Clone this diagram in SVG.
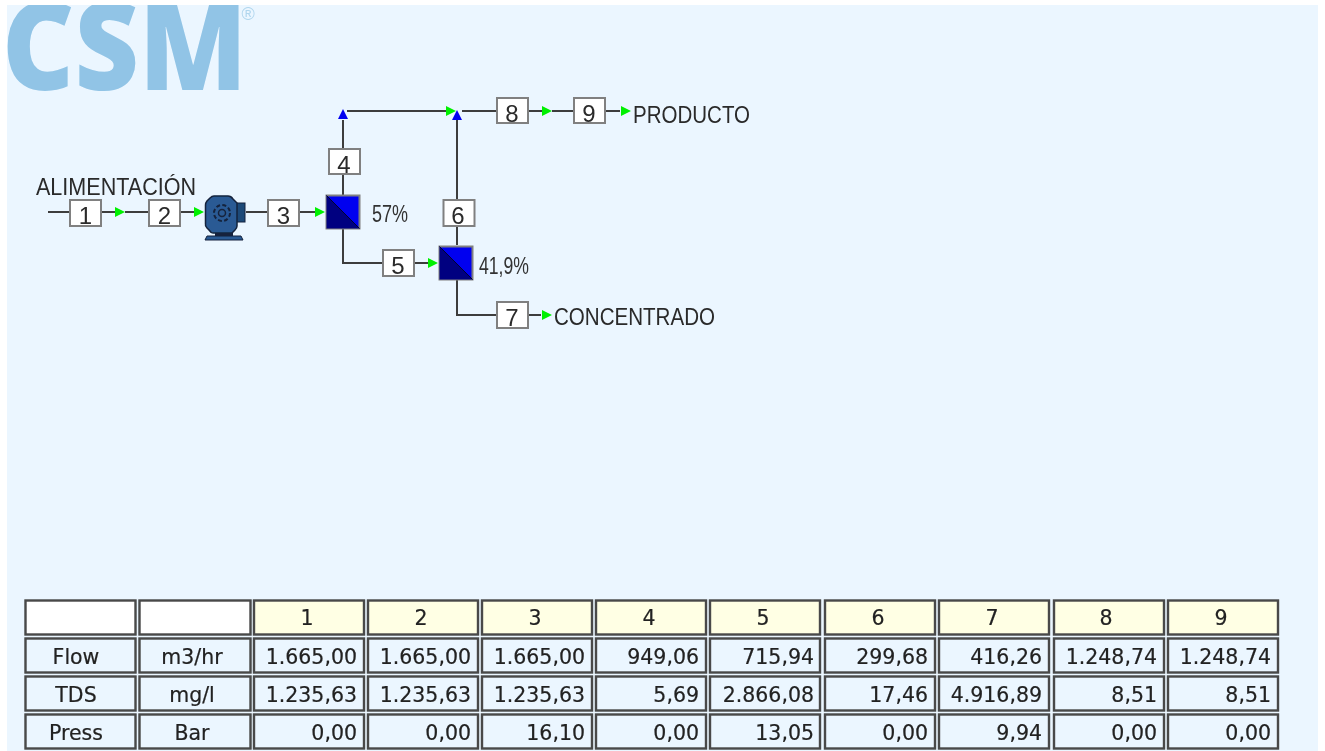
<svg xmlns="http://www.w3.org/2000/svg" width="1325" height="751" viewBox="0 0 1325 751">
<style>
.ln{fill:none;stroke:#3c3c3c;stroke-width:2}
.box{fill:#fff;stroke:#808080;stroke-width:2}
.n{font:24px "Liberation Sans",Arial,sans-serif;fill:#2a2a2a;text-anchor:middle}
.lb{font:23.500px "Liberation Sans",Arial,sans-serif;fill:#2a2a2a}
.pc{font:23px "Liberation Sans",Arial,sans-serif;fill:#333}
.c{fill:#ebf6ff;stroke:#484848;stroke-width:2.400}
.h{fill:#ffffe4}.w{fill:#fff}
.t{font:20.500px "DejaVu Sans",Verdana,sans-serif;fill:#222;stroke:#222;stroke-width:.2}
.m{text-anchor:middle}.r{text-anchor:end}
</style>
<defs>
<polygon id="g" points="0,-5 10,0 0,5" fill="#00f000"/>
<polygon id="b" points="-5,10 5,10 0,0" fill="#0000f0"/>
<g id="mem"><rect x="0" y="0" width="33" height="33" fill="#0000f0" stroke="#808080" stroke-width="2"/><polygon points="0,0 33,33 0,33" fill="#000080"/><line x1="0" y1="0" x2="33" y2="33" stroke="#000030" stroke-width="1"/></g>
<clipPath id="lc"><rect x="7" y="5" width="234" height="100"/></clipPath>
<filter id="soft" filterUnits="userSpaceOnUse" x="0" y="0" width="1325" height="751"><feGaussianBlur stdDeviation="0.450"/></filter>
</defs>
<rect width="1325" height="751" fill="#fff"/>
<rect x="7" y="5" width="1311" height="746" fill="#ebf6ff"/>
<g filter="url(#soft)">
<g id="logo" clip-path="url(#lc)"><text x="2" y="90" textLength="245" lengthAdjust="spacingAndGlyphs" font-family="Open Sans,Liberation Sans,sans-serif" font-weight="800" font-size="122" fill="#91c4e6">CSM</text></g>
<text x="241.500" y="20" font-family="Liberation Sans,sans-serif" font-size="18" fill="#b0d6ee">®</text>
<g id="connectors">
<path class="ln" d="M48 212H115M125 212H194M246 212H315"/>
<path class="ln" d="M343 195V120M347 111H448M462 111H542M552 111H620"/>
<path class="ln" d="M343 229V263H428M457 245V120M457 280V315H541"/>
<use href="#g" x="115" y="212"/><use href="#g" x="194" y="212"/><use href="#g" x="315" y="212"/><use href="#g" x="428" y="263"/>
<use href="#g" x="446" y="111"/><use href="#g" x="542" y="111"/><use href="#g" x="621" y="111"/><use href="#g" x="542" y="315"/>
<use href="#b" x="343" y="109"/><use href="#b" x="457" y="110"/>
</g>
<g id="label-feed"><text class="lb" x="36" y="195" textLength="160" lengthAdjust="spacingAndGlyphs">ALIMENTACIÓN</text></g>
<g id="s1"><rect class="box" x="70" y="200" width="31" height="26"/><text class="n" x="85.500" y="224">1</text></g>
<g id="s2"><rect class="box" x="149" y="200" width="31" height="26"/><text class="n" x="164.500" y="224">2</text></g>
<g id="pump">
<path d="M207 236H241L243 240H205Z" fill="#2a5a94" stroke="#14233c" stroke-width="1"/>
<rect x="215" y="231" width="18" height="5" fill="#14233c"/>
<rect x="236" y="203" width="9" height="19" fill="#1f4878" stroke="#14233c" stroke-width="1"/>
<path d="M214 196H228Q231 196 233 199L237 203V226Q237 228 235 230L232 233H213Q211 233 209 230L207 228Q205 226 205.500 224V205Q205.500 203 207 201L210 198Q212 196 214 196Z" fill="#2a5a94" stroke="#14233c" stroke-width="1.500"/>
<circle cx="222" cy="213" r="8" fill="none" stroke="#14233c" stroke-width="2" stroke-dasharray="4 2.300"/><circle cx="222" cy="213" r="3.500" fill="none" stroke="#14233c" stroke-width="1.500"/>
</g>
<g id="s3"><rect class="box" x="268" y="200" width="31" height="26"/><text class="n" x="283.500" y="224">3</text></g>
<g id="mem1"><use href="#mem" x="326.500" y="195.500"/><text class="pc" x="372" y="222" textLength="36" lengthAdjust="spacingAndGlyphs">57%</text></g>
<g id="s4"><rect class="box" x="329" y="149" width="31" height="25"/><text class="n" x="344" y="173">4</text></g>
<g id="s5"><rect class="box" x="383" y="250" width="31" height="26"/><text class="n" x="398" y="274">5</text></g>
<g id="mem2"><use href="#mem" x="439.500" y="246.500"/><text class="pc" x="479" y="274" textLength="50" lengthAdjust="spacingAndGlyphs">41,9%</text></g>
<g id="s6"><rect class="box" x="443.500" y="200" width="31" height="26"/><text class="n" x="458" y="224">6</text></g>
<g id="s7"><rect class="box" x="497" y="302" width="31" height="26"/><text class="n" x="512" y="326">7</text><text class="lb" x="554" y="325" textLength="161" lengthAdjust="spacingAndGlyphs">CONCENTRADO</text></g>
<g id="s8"><rect class="box" x="497" y="98" width="31" height="25"/><text class="n" x="512" y="122">8</text></g>
<g id="s9"><rect class="box" x="574" y="98" width="31" height="25"/><text class="n" x="589" y="122">9</text><text class="lb" x="633" y="123" textLength="117" lengthAdjust="spacingAndGlyphs">PRODUCTO</text></g>
<g id="table">
<rect class="c w" x="25.500" y="600.500" width="110" height="34"/><rect class="c w" x="139.500" y="600.500" width="111" height="34"/>
<rect class="c h" x="254" y="600.500" width="110" height="34"/><rect class="c h" x="368" y="600.500" width="110" height="34"/><rect class="c h" x="482" y="600.500" width="110" height="34"/><rect class="c h" x="596" y="600.500" width="110" height="34"/><rect class="c h" x="710" y="600.500" width="110" height="34"/><rect class="c h" x="825" y="600.500" width="110" height="34"/><rect class="c h" x="939" y="600.500" width="110" height="34"/><rect class="c h" x="1054" y="600.500" width="110" height="34"/><rect class="c h" x="1168" y="600.500" width="110" height="34"/>
<g id="r1"><rect class="c" x="25.500" y="638.500" width="110" height="34"/><rect class="c" x="139.500" y="638.500" width="111" height="34"/><rect class="c" x="254" y="638.500" width="110" height="34"/><rect class="c" x="368" y="638.500" width="110" height="34"/><rect class="c" x="482" y="638.500" width="110" height="34"/><rect class="c" x="596" y="638.500" width="110" height="34"/><rect class="c" x="710" y="638.500" width="110" height="34"/><rect class="c" x="825" y="638.500" width="110" height="34"/><rect class="c" x="939" y="638.500" width="110" height="34"/><rect class="c" x="1054" y="638.500" width="110" height="34"/><rect class="c" x="1168" y="638.500" width="110" height="34"/></g>
<g id="r2"><rect class="c" x="25.500" y="676.500" width="110" height="34"/><rect class="c" x="139.500" y="676.500" width="111" height="34"/><rect class="c" x="254" y="676.500" width="110" height="34"/><rect class="c" x="368" y="676.500" width="110" height="34"/><rect class="c" x="482" y="676.500" width="110" height="34"/><rect class="c" x="596" y="676.500" width="110" height="34"/><rect class="c" x="710" y="676.500" width="110" height="34"/><rect class="c" x="825" y="676.500" width="110" height="34"/><rect class="c" x="939" y="676.500" width="110" height="34"/><rect class="c" x="1054" y="676.500" width="110" height="34"/><rect class="c" x="1168" y="676.500" width="110" height="34"/></g>
<g id="r3"><rect class="c" x="25.500" y="714.500" width="110" height="34"/><rect class="c" x="139.500" y="714.500" width="111" height="34"/><rect class="c" x="254" y="714.500" width="110" height="34"/><rect class="c" x="368" y="714.500" width="110" height="34"/><rect class="c" x="482" y="714.500" width="110" height="34"/><rect class="c" x="596" y="714.500" width="110" height="34"/><rect class="c" x="710" y="714.500" width="110" height="34"/><rect class="c" x="825" y="714.500" width="110" height="34"/><rect class="c" x="939" y="714.500" width="110" height="34"/><rect class="c" x="1054" y="714.500" width="110" height="34"/><rect class="c" x="1168" y="714.500" width="110" height="34"/></g>
<g class="t m">
<text x="307" y="625">1</text><text x="421" y="625">2</text><text x="535" y="625">3</text><text x="649" y="625">4</text><text x="763" y="625">5</text><text x="878" y="625">6</text><text x="992" y="625">7</text><text x="1106" y="625">8</text><text x="1221" y="625">9</text>
<text x="76" y="664">Flow</text><text x="192" y="664">m3/hr</text>
<text x="76" y="702">TDS</text><text x="192" y="702">mg/l</text>
<text x="76" y="740">Press</text><text x="192" y="740">Bar</text>
</g>
<g class="t r">
<text x="357" y="664">1.665,00</text><text x="471" y="664">1.665,00</text><text x="585" y="664">1.665,00</text><text x="699" y="664">949,06</text><text x="814" y="664">715,94</text><text x="928" y="664">299,68</text><text x="1042" y="664">416,26</text><text x="1157" y="664">1.248,74</text><text x="1271" y="664">1.248,74</text>
<text x="357" y="702">1.235,63</text><text x="471" y="702">1.235,63</text><text x="585" y="702">1.235,63</text><text x="699" y="702">5,69</text><text x="814" y="702">2.866,08</text><text x="928" y="702">17,46</text><text x="1042" y="702">4.916,89</text><text x="1157" y="702">8,51</text><text x="1271" y="702">8,51</text>
<text x="357" y="740">0,00</text><text x="471" y="740">0,00</text><text x="585" y="740">16,10</text><text x="699" y="740">0,00</text><text x="814" y="740">13,05</text><text x="928" y="740">0,00</text><text x="1042" y="740">9,94</text><text x="1157" y="740">0,00</text><text x="1271" y="740">0,00</text>
</g>
</g>
</g>
</svg>
